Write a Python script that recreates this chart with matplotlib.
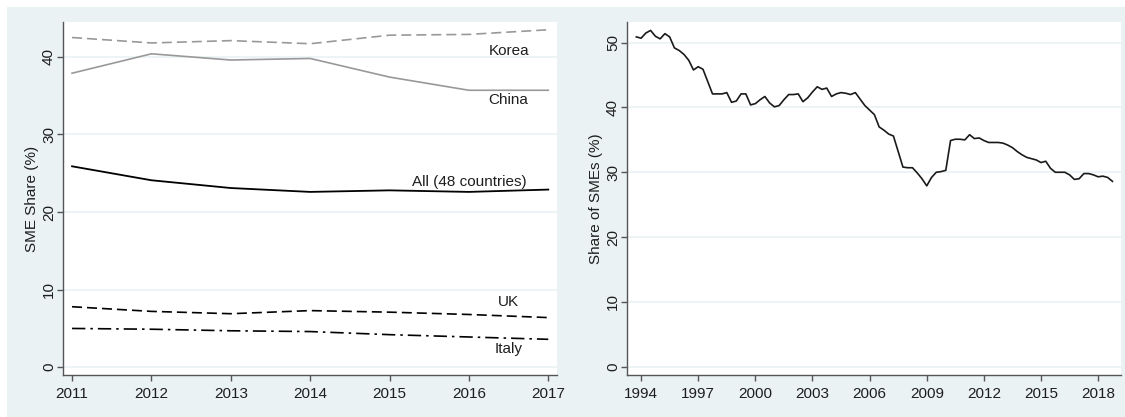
import matplotlib
matplotlib.use("Agg")
import matplotlib.pyplot as plt
import numpy as np
import pandas as pd
from matplotlib.patches import Rectangle

plt.rcParams['font.family'] = ['Liberation Sans', 'DejaVu Sans']

# ---- Left panel data ----
years = [2011, 2012, 2013, 2014, 2015, 2016, 2017]
korea = [42.5, 41.8, 42.1, 41.7, 42.8, 42.9, 43.5]
china = [37.9, 40.4, 39.6, 39.8, 37.4, 35.7, 35.7]
all48 = [25.9, 24.1, 23.1, 22.6, 22.8, 22.6, 22.9]
uk = [7.8, 7.2, 6.9, 7.3, 7.1, 6.8, 6.4]
italy = [5.0, 4.9, 4.7, 4.6, 4.2, 3.9, 3.6]

# ---- Right panel data (quarterly, 1993Q4 - 2018Q4) ----
quarters = pd.period_range("1993Q4", "2018Q4", freq="Q")
sme_share = [50.9, 50.7, 51.5, 51.9, 51.0, 50.6, 51.4, 50.9, 49.2, 48.8,
             48.2, 47.3, 45.8, 46.3, 45.9, 44.0, 42.1, 42.1, 42.1, 42.3,
             40.8, 41.0, 42.1, 42.1, 40.4, 40.6, 41.2, 41.7, 40.7, 40.1,
             40.3, 41.2, 42.0, 42.0, 42.1, 40.9, 41.5, 42.4, 43.2, 42.8,
             43.0, 41.7, 42.1, 42.3, 42.2, 42.0, 42.3, 41.3, 40.3, 39.6,
             38.9, 37.0,
             36.5, 35.9, 35.6, 33.2, 30.8, 30.7, 30.7, 29.9, 29.0, 27.9,
             29.2, 30.0, 30.1, 30.3, 34.9, 35.1, 35.1, 35.0, 35.8, 35.2,
             35.3, 34.9, 34.6, 34.6, 34.6, 34.5, 34.2, 33.8, 33.2, 32.7,
             32.3, 32.1, 31.9, 31.5, 31.7, 30.6, 30.0, 30.0, 30.0, 29.6,
             28.9, 29.0, 29.8, 29.8, 29.6, 29.3, 29.4, 29.2, 28.6]
qx = [q.year + (q.quarter - 1) / 4.0 for q in quarters]

left_yticks = [0, 10, 20, 30, 40]
right_yticks = [0, 10, 20, 30, 40, 50]
right_xticks = [1994, 1997, 2000, 2003, 2006, 2009, 2012, 2015, 2018]

W, H = 1125, 417
fig = plt.figure(figsize=(W / 100, H / 100), dpi=100)
fig.patch.set_facecolor('white')
bg = Rectangle((7 / W, 0), 1 - 7 / W, 1 - 7 / H, transform=fig.transFigure,
               facecolor='#EAF2F3', edgecolor='none', zorder=-10)
fig.patches.append(bg)

ax1 = fig.add_axes([63 / W, 1 - 375 / H, (557 - 63) / W, (375 - 22) / H])
ax2 = fig.add_axes([627 / W, 1 - 375 / H, (1121 - 627) / W, (375 - 22) / H])

spine_c = '#555555'
grid_c = '#EAF2F3'
txt_c = '#1e1e1e'
fs = 11
for ax in (ax1, ax2):
    ax.set_facecolor('white')
    for s in ('top', 'right'):
        ax.spines[s].set_visible(False)
    for s in ('left', 'bottom'):
        ax.spines[s].set_color(spine_c)
        ax.spines[s].set_linewidth(1.0)
    ax.tick_params(axis='both', direction='out', length=4, width=1.0,
                   color=spine_c, labelsize=fs, labelcolor=txt_c)
    ax.tick_params(axis='x', pad=5)
    ax.tick_params(axis='y', pad=1)
    ax.grid(axis='y', color=grid_c, linewidth=1.2)
    ax.set_axisbelow(True)

# Left panel
ax1.plot(years, korea, color='#999999', linestyle=(0, (6, 3)), linewidth=1.2)
ax1.plot(years, china, color='#999999', linestyle='-', linewidth=1.2)
ax1.plot(years, all48, color='black', linestyle='-', linewidth=1.3)
ax1.plot(years, uk, color='black', linestyle=(0, (6, 3)), linewidth=1.2)
ax1.plot(years, italy, color='black', linestyle=(0, (8, 3, 1.5, 3)), linewidth=1.2)
ax1.set_xlim(2010.886, 2017.11)
ax1.set_ylim(-1.0, 44.5)
ax1.set_xticks(years)
ax1.set_yticks(left_yticks)
ax1.set_ylabel('SME Share (%)', fontsize=fs, color=txt_c)
ax1.yaxis.set_label_coords(-0.048, 0.5)
for lab in ax1.get_yticklabels():
    lab.set_rotation(90)
    lab.set_va('center')

ax1.text(2016.5, 40.8, 'Korea', ha='center', va='center', fontsize=fs, color=txt_c)
ax1.text(2016.5, 34.4, 'China', ha='center', va='center', fontsize=fs, color=txt_c)
ax1.text(2016.0, 23.9, 'All (48 countries)', ha='center', va='center', fontsize=fs, color=txt_c)
ax1.text(2016.5, 8.4, 'UK', ha='center', va='center', fontsize=fs, color=txt_c)
ax1.text(2016.5, 2.4, 'Italy', ha='center', va='center', fontsize=fs, color=txt_c)

# Right panel
ax2.plot(qx, sme_share, color='#1a1a1a', linewidth=1.2)
ax2.set_xlim(1993.26, 2019.2)
ax2.set_ylim(-1.3, 53.2)
ax2.set_xticks(right_xticks)
ax2.set_yticks(right_yticks)
ax2.set_ylabel('Share of SMEs (%)', fontsize=fs, color=txt_c)
ax2.yaxis.set_label_coords(-0.048, 0.5)
for lab in ax2.get_yticklabels():
    lab.set_rotation(90)
    lab.set_va('center')

fig.savefig('out.png', dpi=100, facecolor=fig.get_facecolor())
